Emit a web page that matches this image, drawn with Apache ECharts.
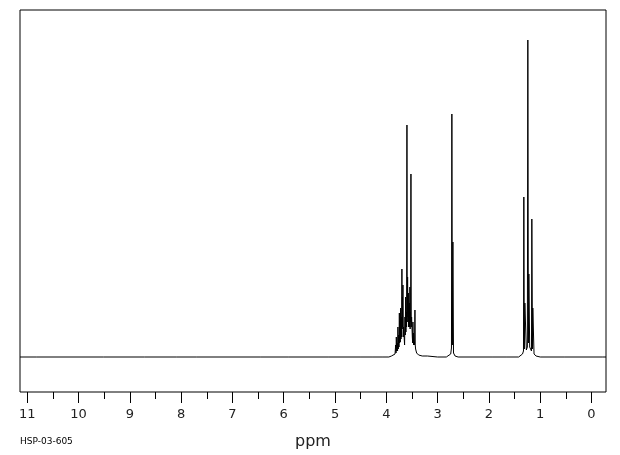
<!DOCTYPE html>
<html>
<head>
<meta charset="utf-8">
<script src="https://cdn.jsdelivr.net/npm/echarts@6/dist/echarts.min.js"></script>
<style>html,body{margin:0;padding:0;background:#fff}#c{width:620px;height:455px}</style>
</head>
<body>
<div id="c"></div>
<script>
// chemical shift (ppm) of each sampled spectrum point
const shiftPpm = [
-0.283,-0.222,-0.214,-0.206,0.518,0.526,0.534,1.000,1.080,1.120,1.134,1.144,1.150,1.157,1.163,1.170,1.190,1.205,1.214,1.221,1.230,1.241,1.250,1.270,1.290,1.299,1.310,1.319,1.326,1.345,1.380,1.420,
1.648,1.656,1.664,1.921,1.929,1.937,2.600,2.660,2.690,2.702,2.712,2.722,2.730,2.745,2.780,2.830,
3.000,3.200,3.300,3.370,3.409,3.422,3.429,3.436,3.442,3.450,3.462,3.468,3.474,3.478,3.481,3.487,3.493,3.500,3.507,3.514,3.520,3.526,3.532,3.536,3.540,3.546,3.552,3.556,3.559,3.565,3.571,3.578,3.585,3.592,3.598,3.605,3.612,3.618,3.624,3.630,3.637,3.644,3.651,3.657,3.663,3.670,3.676,3.681,3.686,3.691,3.696,3.702,3.707,3.714,3.721,3.728,3.735,3.740,3.746,3.753,3.760,3.767,3.774,3.781,3.789,3.797,3.805,3.811,3.818,3.830,3.860,3.900,3.950,
4.083,4.091,4.099,4.278,4.286,4.294,4.512,4.520,4.528,5.135,5.143,5.151,5.914,5.922,5.930,6.460,6.468,6.476,7.707,7.715,7.723,8.097,8.104,8.112,8.720,8.728,8.736,9.519,9.527,9.535,10.827,10.832,10.840,11.142
];
// intensity at each point (relative units)
const intensity = [
0,0,1,0,0,1,0,0,1,3,5,49,8,7,138,6,7,10,12,83,14,317,10,7,8,54,8,160,6,3,1,0,
0,1,0,0,1,0,0,1,4,115,12,243,9,3,1,0,
0,1,1,2,4,6,8,12,47,12,15,12,24,15,35,14,20,18,40,30,183,35,45,28,70,30,54,32,50,30,64,40,80,35,232,30,45,25,60,22,40,12,12,10,30,20,72,30,60,28,88,20,40,18,49,15,36,14,44,10,22,8,30,6,14,6,20,4,12,3,2,1,0,
0,1,0,0,1,0,0,1,0,0,1,0,0,1,0,0,1,0,0,1,0,0,1,0,0,-1,0,0,1,0,0,1,0,0
];
const majorTicks = [0,1,2,3,4,5,6,7,8,9,10,11];
const minorTicks = [0.5,1.5,2.5,3.5,4.5,5.5,6.5,7.5,8.5,9.5,10.5];
const axisTitle = 'ppm';
const sampleCode = 'HSP-03-605';

const pts = shiftPpm.map((p, i) => [p, intensity[i]]);
const chart = echarts.init(document.getElementById('c'), null, {renderer: 'canvas'});
const xMin = -0.283, xMax = 11.142;
chart.setOption({
  animation: false,
  backgroundColor: '#fff',
  grid: {left: 20, right: 14, top: 10, bottom: 63, show: true, borderColor: '#000', borderWidth: 1, backgroundColor: 'transparent'},
  xAxis: [{
    type: 'value', min: xMin, max: xMax, inverse: true, position: 'bottom',
    axisLine: {show: false, onZero: false},
    splitLine: {show: false},
    axisTick: {show: true, length: 11, customValues: majorTicks, lineStyle: {color: '#000', width: 1}},
    axisLabel: {show: true, customValues: majorTicks, margin: 16, fontSize: 13, color: '#222', fontFamily: 'DejaVu Sans'},
    name: axisTitle, nameLocation: 'middle', nameGap: 42,
    nameTextStyle: {fontSize: 16, color: '#222', fontFamily: 'DejaVu Sans', verticalAlign: 'top'}
  }, {
    type: 'value', min: xMin, max: xMax, inverse: true, position: 'bottom', offset: 0,
    axisLine: {show: false, onZero: false},
    splitLine: {show: false},
    axisTick: {show: true, length: 7, customValues: minorTicks, lineStyle: {color: '#000', width: 1}},
    axisLabel: {show: false}
  }],
  yAxis: {type: 'value', min: -35, max: 347, show: false, splitLine: {show: false}},
  graphic: [{
    type: 'text', left: 20, top: 437,
    style: {text: sampleCode, fontSize: 9, fill: '#000', fontFamily: 'DejaVu Sans'}
  }],
  series: [{
    type: 'line', data: pts, xAxisIndex: 0, yAxisIndex: 0,
    showSymbol: false, symbol: 'none', smooth: false,
    lineStyle: {color: '#000', width: 1}
  }]
});
</script>
</body>
</html>
